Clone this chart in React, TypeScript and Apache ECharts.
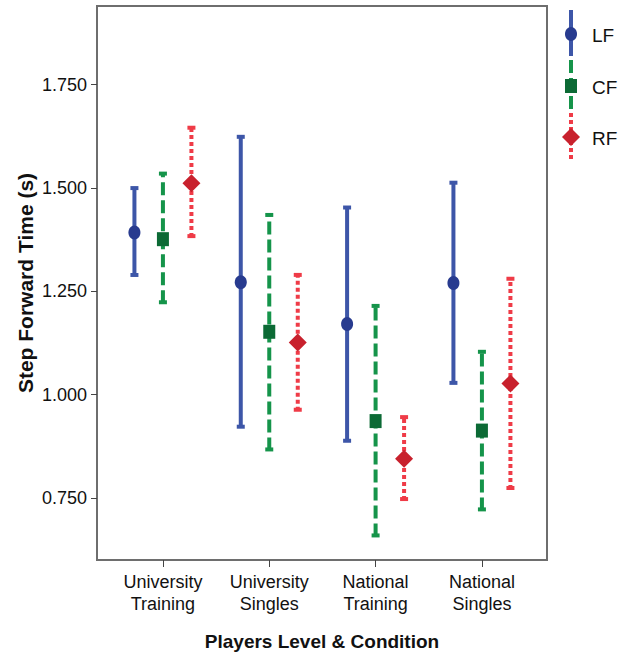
import React, { useEffect, useRef } from "react";
import * as echarts from "echarts";

const categories = ["University\nTraining", "University\nSingles", "National\nTraining", "National\nSingles"];
const yTicks = [0.75, 1.0, 1.25, 1.5, 1.75];

const lfMean = [1.392, 1.272, 1.171, 1.27];
const lfLow = [1.287, 0.92, 0.886, 1.026];
const lfHigh = [1.502, 1.626, 1.455, 1.515];

const cfMean = [1.376, 1.152, 0.936, 0.913];
const cfLow = [1.221, 0.865, 0.657, 0.72];
const cfHigh = [1.537, 1.437, 1.217, 1.106];

const rfMean = [1.511, 1.126, 0.845, 1.027];
const rfLow = [1.381, 0.961, 0.745, 0.772];
const rfHigh = [1.648, 1.292, 0.948, 1.283];

const FONT = "'Liberation Sans', Arial, sans-serif";

function markerShape(kind: string, cx: number, cy: number, color: string) {
  if (kind === "circle") {
    return { type: "ellipse", shape: { cx, cy, rx: 6, ry: 7 }, style: { fill: color } };
  }
  if (kind === "square") {
    return { type: "rect", shape: { x: cx - 6, y: cy - 7, width: 12, height: 14 }, style: { fill: color } };
  }
  return {
    type: "polygon",
    shape: { points: [[cx, cy - 9], [cx + 9, cy], [cx, cy + 9], [cx - 9, cy]] },
    style: { fill: color },
  };
}

function makeRenderer(offset: number, kind: string, lineColor: string, markColor: string, dash: any) {
  return (params: any, api: any) => {
    const x = api.value(0) + offset;
    const lo = api.coord([x, api.value(1)]);
    const hi = api.coord([x, api.value(2)]);
    const mid = api.coord([x, api.value(3)]);
    return {
      type: "group",
      children: [
        {
          type: "line",
          shape: { x1: lo[0], y1: lo[1], x2: hi[0], y2: hi[1] },
          style: { stroke: lineColor, lineWidth: 4, lineDash: dash, lineCap: "butt" },
        },
        { type: "rect", shape: { x: hi[0] - 4, y: hi[1] - 1, width: 8, height: 4 }, style: { fill: lineColor } },
        { type: "rect", shape: { x: lo[0] - 4, y: lo[1] - 3, width: 8, height: 4 }, style: { fill: lineColor } },
        markerShape(kind, mid[0], mid[1], markColor),
      ],
    };
  };
}

const BLUE = "#3d56a8";
const BLUE_D = "#283b8f";
const GREEN = "#15944a";
const GREEN_D = "#0c6a35";
const RED = "#ef3b47";
const RED_D = "#c8212d";

export default function App() {
  const ref = useRef<HTMLDivElement>(null);
  useEffect(() => {
    if (!ref.current) return;
    const chart = echarts.init(ref.current, null, { renderer: "svg" });
    const build = (mean: number[], low: number[], high: number[]) => mean.map((m, i) => [i, low[i], high[i], m]);
    chart.setOption({
      animation: false,
      backgroundColor: "#fff",
      grid: { left: 97, right: 81, top: 6, bottom: 98, show: true, borderColor: "#6e6e6e", borderWidth: 2 },
      xAxis: {
        type: "value",
        min: -0.62,
        max: 3.612,
        name: "Players Level & Condition",
        nameLocation: "middle",
        nameGap: 72,
        nameMoveOverlap: false,
        nameTextStyle: { fontFamily: FONT, fontWeight: "bold", fontSize: 19, color: "#111" },
        splitLine: { show: false },
        axisLine: { show: true, onZero: false, lineStyle: { color: "#6e6e6e", width: 2 } },
        axisTick: { show: true, length: 7, customValues: [0, 1, 2, 3], lineStyle: { color: "#444", width: 1 } },
        axisLabel: {
          customValues: [0, 1, 2, 3],
          formatter: (v: number) => categories[Math.round(v)],
          fontFamily: FONT,
          fontSize: 18,
          lineHeight: 22,
          color: "#111",
          margin: 11,
        },
      },
      yAxis: {
        type: "value",
        min: 0.6,
        max: 1.94,
        name: "Step Forward Time (s)",
        nameLocation: "middle",
        nameGap: 61,
        nameMoveOverlap: false,
        nameTextStyle: { fontFamily: FONT, fontWeight: "bold", fontSize: 21, color: "#111" },
        splitLine: { show: false },
        axisLine: { show: true, onZero: false, lineStyle: { color: "#6e6e6e", width: 2 } },
        axisTick: { show: true, length: 6, customValues: yTicks, lineStyle: { color: "#444", width: 1 } },
        axisLabel: {
          customValues: yTicks,
          formatter: (v: number) => v.toFixed(3),
          fontFamily: FONT,
          fontSize: 18,
          color: "#111",
          margin: 10,
        },
      },
      graphic: [
        { type: "line", shape: { x1: 571, y1: 10, x2: 571, y2: 56 }, style: { stroke: BLUE, lineWidth: 4 } },
        { type: "ellipse", shape: { cx: 571, cy: 34, rx: 6, ry: 7 }, style: { fill: BLUE_D } },
        { type: "text", x: 592, y: 35, style: { text: "LF", fontFamily: FONT, fontSize: 19, fill: "#111", verticalAlign: "middle" } },
        { type: "line", shape: { x1: 571, y1: 60, x2: 571, y2: 109 }, style: { stroke: GREEN, lineWidth: 4, lineDash: [13, 5] } },
        { type: "rect", shape: { x: 565, y: 79, width: 12, height: 14 }, style: { fill: GREEN_D } },
        { type: "text", x: 592, y: 87, style: { text: "CF", fontFamily: FONT, fontSize: 19, fill: "#111", verticalAlign: "middle" } },
        { type: "line", shape: { x1: 571, y1: 113, x2: 571, y2: 161 }, style: { stroke: RED, lineWidth: 4, lineDash: [4, 3] } },
        { type: "polygon", shape: { points: [[571, 128], [580, 137], [571, 146], [562, 137]] }, style: { fill: RED_D } },
        { type: "text", x: 592, y: 138, style: { text: "RF", fontFamily: FONT, fontSize: 19, fill: "#111", verticalAlign: "middle" } },
      ],
      series: [
        {
          name: "LF",
          type: "custom",
          renderItem: makeRenderer(-0.268, "circle", BLUE, BLUE_D, null),
          encode: { x: 0, y: [1, 2, 3] },
          data: build(lfMean, lfLow, lfHigh),
        },
        {
          name: "CF",
          type: "custom",
          renderItem: makeRenderer(0, "square", GREEN, GREEN_D, [13, 5]),
          encode: { x: 0, y: [1, 2, 3] },
          data: build(cfMean, cfLow, cfHigh),
        },
        {
          name: "RF",
          type: "custom",
          renderItem: makeRenderer(0.268, "diamond", RED, RED_D, [4, 3]),
          encode: { x: 0, y: [1, 2, 3] },
          data: build(rfMean, rfLow, rfHigh),
        },
      ],
    });
    return () => chart.dispose();
  }, []);
  return <div ref={ref} style={{ width: 628, height: 658, position: "absolute", left: 0, top: 0 }} />;
}
